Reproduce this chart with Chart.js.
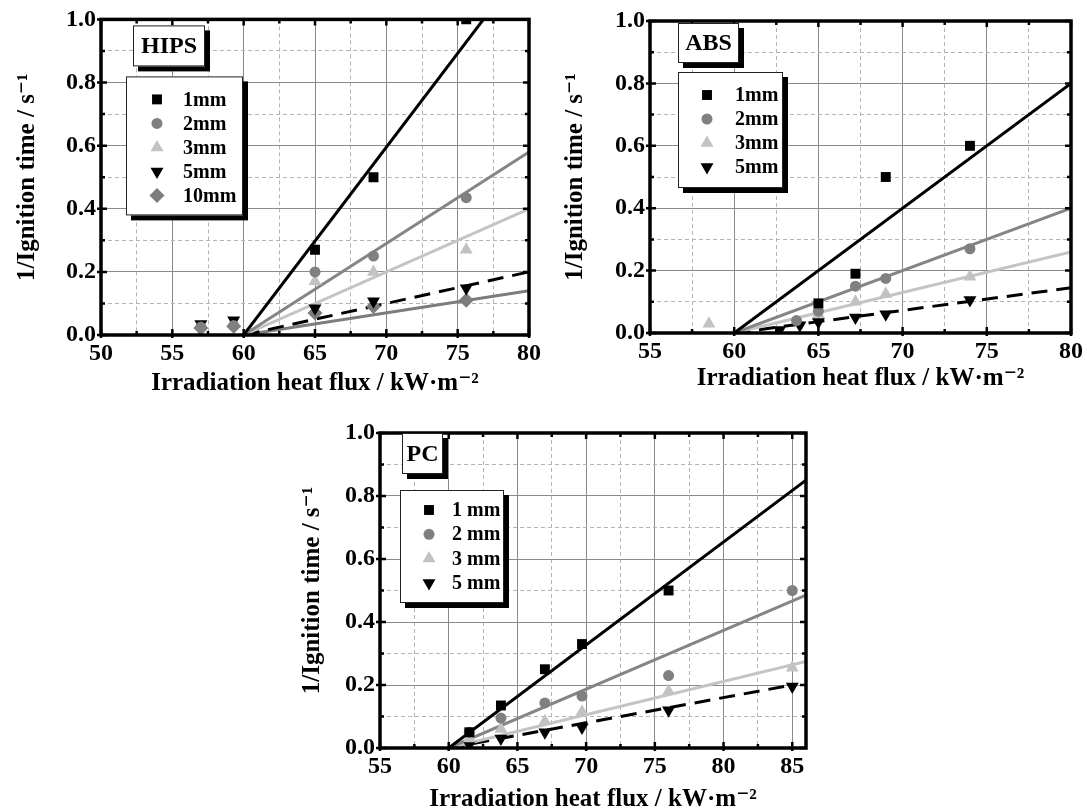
<!DOCTYPE html>
<html>
<head>
<meta charset="utf-8">
<script src="https://cdn.jsdelivr.net/npm/chart.js@4.4.1/dist/chart.umd.min.js"></script>
<style>
  body { margin: 0; background: #fff; width: 1087px; height: 812px; overflow: hidden; position: relative; }
  canvas { position: absolute; }
</style>
</head>
<body>
<canvas id="hips" width="545" height="400" style="left:0px;top:0px"></canvas>
<canvas id="abs" width="537" height="400" style="left:550px;top:0px"></canvas>
<canvas id="pc" width="540" height="412" style="left:280px;top:400px"></canvas>
<script>
// ---- data ----
// HIPS
const hips1mmX = [65, 69.1, 75.6];
const hips1mmY = [0.27, 0.5, 1.0];
const hips2mmX = [57, 59.3, 65, 69.1, 75.6];
const hips2mmY = [0.025, 0.03, 0.2, 0.25, 0.435];
const hips3mmX = [65, 69.1, 75.6];
const hips3mmY = [0.17, 0.2, 0.27];
const hips5mmX = [57, 59.3, 65, 69.1, 75.6];
const hips5mmY = [0.035, 0.047, 0.085, 0.107, 0.148];
const hips10mmX = [57, 59.3, 65, 69.1, 75.6];
const hips10mmY = [0.022, 0.028, 0.07, 0.09, 0.11];
const hipsFitX = [60, 80];
const hips1mmFitY = [0, 1.19];
const hips2mmFitY = [0, 0.58];
const hips3mmFitY = [0, 0.40];
const hips5mmFitY = [0, 0.20];
const hips10mmFitY = [0, 0.14];
const hipsXTicks = [50, 52.5, 55, 57.5, 60, 62.5, 65, 67.5, 70, 72.5, 75, 77.5, 80];

// ABS
const abs1mmX = [65, 67.2, 69, 74];
const abs1mmY = [0.095, 0.19, 0.5, 0.6];
const abs2mmX = [63.7, 65, 67.2, 69, 74];
const abs2mmY = [0.04, 0.07, 0.15, 0.175, 0.27];
const abs3mmX = [58.5, 65, 67.2, 69, 74];
const abs3mmY = [0.03, 0.06, 0.1, 0.125, 0.18];
const abs5mmX = [62.7, 63.9, 65, 67.2, 69, 74];
const abs5mmY = [0.01, 0.025, 0.035, 0.05, 0.06, 0.106];
const absFitX = [60, 80];
const abs1mmFitY = [0, 0.80];
const abs2mmFitY = [0, 0.40];
const abs3mmFitY = [0, 0.26];
const abs5mmFitY = [0, 0.145];
const absXTicks = [55, 57.5, 60, 62.5, 65, 67.5, 70, 72.5, 75, 77.5, 80];

// PC
const pc1mmX = [61.5, 63.8, 67, 69.7, 76];
const pc1mmY = [0.05, 0.135, 0.25, 0.33, 0.5];
const pc2mmX = [61.5, 63.8, 67, 69.7, 76, 85];
const pc2mmY = [0.05, 0.095, 0.143, 0.165, 0.23, 0.5];
const pc3mmX = [61.5, 63.8, 67, 69.7, 76, 85];
const pc3mmY = [0.03, 0.06, 0.085, 0.115, 0.18, 0.255];
const pc5mmX = [61.5, 63.8, 67, 69.7, 76, 85];
const pc5mmY = [0.01, 0.03, 0.05, 0.065, 0.12, 0.195];
const pcFitX = [60, 86];
const pc1mmFitY = [0, 0.85];
const pc2mmFitY = [0, 0.485];
const pc3mmFitY = [0, 0.275];
const pc5mmFitX = [60, 85];
const pc5mmFitY = [0, 0.20];
const pcXTicks = [55, 57.5, 60, 62.5, 65, 67.5, 70, 72.5, 75, 77.5, 80, 82.5, 85];

const yTicks = [0, 0.1, 0.2, 0.3, 0.4, 0.5, 0.6, 0.7, 0.8, 0.9, 1.0];
const yTitle = "1/Ignition time / s\u207B\u00B9";
const xTitle = "Irradiation heat flux / kW\u00B7m\u207B\u00B2";

// ---- styles ----
const SERIF = '"Liberation Serif", "DejaVu Serif", serif';
const S1 = { color: "#000000", line: "#000000", pointStyle: "rect", radius: 7, rotation: 0, dash: [] };
const S2 = { color: "#808080", line: "#858585", pointStyle: "circle", radius: 5.5, rotation: 0, dash: [] };
const S3 = { color: "#c2c2c2", line: "#c4c4c4", pointStyle: "triangle", radius: 7.5, rotation: 0, dash: [] };
const S5 = { color: "#000000", line: "#000000", pointStyle: "triangle", radius: 7.5, rotation: 180, dash: [16, 9] };
const S10 = { color: "#7c7c7c", line: "#7c7c7c", pointStyle: "rectRot", radius: 7.5, rotation: 0, dash: [] };

function pts(xs, ys) {
  return xs.map((x, i) => ({ x: x, y: ys[i] }));
}

function isMultiple(v, step) {
  const q = v / step;
  return Math.abs(q - Math.round(q)) < 1e-6;
}

function box(ctx, x, y, w, h) {
  ctx.fillStyle = "#000";
  ctx.fillRect(x + 5, y + 5, w, h);
  ctx.fillStyle = "#fff";
  ctx.fillRect(x, y, w, h);
  ctx.strokeStyle = "#222";
  ctx.lineWidth = 1;
  ctx.strokeRect(x + 0.5, y + 0.5, w - 1, h - 1);
}

function makePanel(id, p) {
  const datasets = [];
  p.series.forEach(s => {
    datasets.push({
      label: s.name + " fit",
      data: pts(s.fitX, s.fitY),
      showLine: true,
      borderColor: s.style.line,
      borderWidth: 3,
      borderDash: s.style.dash,
      pointRadius: 0,
      order: 1
    });
  });
  p.series.forEach(s => {
    datasets.push({
      label: s.name,
      data: pts(s.x, s.y),
      showLine: false,
      pointStyle: s.style.pointStyle,
      pointRadius: s.style.radius,
      rotation: s.style.rotation,
      backgroundColor: s.style.color,
      borderColor: s.style.color,
      borderWidth: 0,
      order: 0
    });
  });

  // frame, tick marks, label box and legend box
  const decor = {
    id: "decor",
    afterDatasetsDraw(chart) {
      const { ctx, chartArea: a, scales } = chart;
      const xs = scales.x, ys = scales.y;
      ctx.save();
      ctx.strokeStyle = "#000";
      ctx.lineWidth = 2.5;
      ctx.beginPath();
      xs.ticks.forEach(t => {
        const px = xs.getPixelForValue(t.value);
        const major = isMultiple(t.value, 5);
        const len = major ? 6 : 4;
        ctx.moveTo(px, a.bottom + (major ? 3 : 0)); ctx.lineTo(px, a.bottom - len);
        ctx.moveTo(px, a.top); ctx.lineTo(px, a.top + len);
      });
      ys.ticks.forEach(t => {
        const py = ys.getPixelForValue(t.value);
        const major = isMultiple(t.value, 0.2);
        const len = major ? 6 : 4;
        ctx.moveTo(a.left - (major ? 4 : 0), py); ctx.lineTo(a.left + len, py);
        ctx.moveTo(a.right, py); ctx.lineTo(a.right - len, py);
      });
      ctx.stroke();
      ctx.lineWidth = 3.5;
      ctx.strokeRect(a.left, a.top, a.right - a.left, a.bottom - a.top);

      // material label
      const lb = p.labelBox;
      box(ctx, a.left + lb[0], a.top + lb[1], lb[2], lb[3]);
      ctx.fillStyle = "#000";
      ctx.font = "bold 24px " + SERIF;
      ctx.textAlign = "center";
      ctx.textBaseline = "middle";
      ctx.fillText(p.label, a.left + lb[0] + lb[2] / 2, a.top + lb[1] + lb[3] / 2 + 1);

      // legend
      const g = p.legendBox;
      const gx = a.left + g[0], gy = a.top + g[1];
      box(ctx, gx, gy, g[2], g[3]);
      ctx.font = "bold 20px " + SERIF;
      ctx.textAlign = "left";
      p.series.forEach((s, i) => {
        const ry = gy + p.rowTop + i * p.rowH;
        ctx.fillStyle = s.style.color;
        Chart.helpers.drawPoint(ctx, {
          pointStyle: s.style.pointStyle,
          radius: s.style.radius,
          rotation: s.style.rotation,
          borderWidth: 0
        }, gx + p.markerDx, ry);
        ctx.fillStyle = "#000";
        ctx.fillText(s.name, gx + p.textDx, ry + 1);
      });
      ctx.restore();
    }
  };

  const gridColor = c => (c.tick && isMultiple(c.tick.value, c.scale.axis === "x" ? 5 : 0.2)) ? "#8a8a8a" : "#b4b4b4";
  const gridDash = c => (c.tick && isMultiple(c.tick.value, c.scale.axis === "x" ? 5 : 0.2)) ? [] : [4, 3];
  const tickFont = { family: SERIF, size: 24, weight: "bold" };
  const titleFont = { family: SERIF, size: 25, weight: "bold", lineHeight: 1.0 };

  new Chart(document.getElementById(id), {
    type: "scatter",
    data: { datasets: datasets },
    options: {
      responsive: false,
      animation: false,
      layout: { padding: { top: p.padTop, right: p.padRight, left: 0, bottom: 0 } },
      plugins: { legend: { display: false }, tooltip: { enabled: false } },
      scales: {
        x: {
          type: "linear",
          min: p.xMin, max: p.xMax,
          afterFit: s => { s.height = p.xHeight; },
          afterBuildTicks: s => { s.ticks = p.xTicks.map(v => ({ value: v })); },
          ticks: {
            autoSkip: false, maxRotation: 0, padding: 4,
            color: "#000", font: tickFont,
            callback: v => isMultiple(v, 5) ? String(v) : ""
          },
          grid: { color: gridColor, lineWidth: 1, drawTicks: false },
          border: { display: false, dash: gridDash },
          title: { display: true, text: xTitle, color: "#000", font: titleFont, padding: { top: 0, bottom: p.xTitlePad } }
        },
        y: {
          type: "linear",
          min: 0, max: 1,
          afterFit: s => { s.width = p.yWidth; },
          afterBuildTicks: s => { s.ticks = yTicks.map(v => ({ value: v })); },
          ticks: {
            autoSkip: false, padding: 5,
            color: "#000", font: tickFont,
            callback: v => isMultiple(v, 0.2) ? v.toFixed(1) : ""
          },
          grid: { color: gridColor, lineWidth: 1, drawTicks: false },
          border: { display: false, dash: gridDash },
          title: { display: true, text: yTitle, color: "#000", font: titleFont, padding: { top: p.yTitlePad, bottom: 0 } }
        }
      }
    },
    plugins: [decor]
  });
}

makePanel("hips", {
  xMin: 50, xMax: 80, xTicks: hipsXTicks, yWidth: 101, xHeight: 65, padTop: 17, padRight: 12,
  xTitlePad: 4, yTitlePad: 15,
  label: "HIPS", labelBox: [32, 6, 72, 41],
  legendBox: [25, 57, 117, 139], rowTop: 23, rowH: 24, markerDx: 31, textDx: 57,
  series: [
    { name: "1mm", style: S1, x: hips1mmX, y: hips1mmY, fitX: hipsFitX, fitY: hips1mmFitY },
    { name: "2mm", style: S2, x: hips2mmX, y: hips2mmY, fitX: hipsFitX, fitY: hips2mmFitY },
    { name: "3mm", style: S3, x: hips3mmX, y: hips3mmY, fitX: hipsFitX, fitY: hips3mmFitY },
    { name: "5mm", style: S5, x: hips5mmX, y: hips5mmY, fitX: hipsFitX, fitY: hips5mmFitY },
    { name: "10mm", style: S10, x: hips10mmX, y: hips10mmY, fitX: hipsFitX, fitY: hips10mmFitY }
  ]
});

makePanel("abs", {
  xMin: 55, xMax: 80, xTicks: absXTicks, yWidth: 100, xHeight: 67, padTop: 21, padRight: 14,
  xTitlePad: 9, yTitlePad: 13,
  label: "ABS", labelBox: [28, 2, 61, 40],
  legendBox: [28, 51, 105, 116], rowTop: 23, rowH: 24, markerDx: 29, textDx: 57,
  series: [
    { name: "1mm", style: S1, x: abs1mmX, y: abs1mmY, fitX: absFitX, fitY: abs1mmFitY },
    { name: "2mm", style: S2, x: abs2mmX, y: abs2mmY, fitX: absFitX, fitY: abs2mmFitY },
    { name: "3mm", style: S3, x: abs3mmX, y: abs3mmY, fitX: absFitX, fitY: abs3mmFitY },
    { name: "5mm", style: S5, x: abs5mmX, y: abs5mmY, fitX: absFitX, fitY: abs5mmFitY }
  ]
});

makePanel("pc", {
  xMin: 55, xMax: 86, xTicks: pcXTicks, yWidth: 100, xHeight: 64, padTop: 33, padRight: 14,
  xTitlePad: 0, yTitlePad: 20,
  label: "PC", labelBox: [22, 0, 41, 41],
  legendBox: [20, 57, 104, 113], rowTop: 20, rowH: 24.3, markerDx: 29, textDx: 52,
  series: [
    { name: "1 mm", style: S1, x: pc1mmX, y: pc1mmY, fitX: pcFitX, fitY: pc1mmFitY },
    { name: "2 mm", style: S2, x: pc2mmX, y: pc2mmY, fitX: pcFitX, fitY: pc2mmFitY },
    { name: "3 mm", style: S3, x: pc3mmX, y: pc3mmY, fitX: pcFitX, fitY: pc3mmFitY },
    { name: "5 mm", style: S5, x: pc5mmX, y: pc5mmY, fitX: pc5mmFitX, fitY: pc5mmFitY }
  ]
});
</script>
</body>
</html>
